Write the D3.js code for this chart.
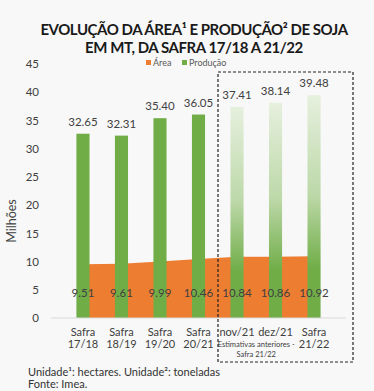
<!DOCTYPE html>
<html>
<head>
<meta charset="utf-8">
<script src="https://cdn.jsdelivr.net/npm/d3@7"></script>
<style>
  body { margin: 0; background: #f8f8f8; }
  svg { display: block; font-family: Lato, "Open Sans", sans-serif; }
</style>
</head>
<body>
<div id="wrapper"></div>
<script>
/* chart data */
const categories = ["Safra 17/18", "Safra 18/19", "Safra 19/20", "Safra 20/21", "nov/21", "dez/21", "Safra 21/22"];
const tickLines = [["Safra", "17/18"], ["Safra", "18/19"], ["Safra", "19/20"], ["Safra", "20/21"], ["nov/21"], ["dez/21"], ["Safra", "21/22"]];
const area = [9.51, 9.61, 9.99, 10.46, 10.84, 10.86, 10.92];
const producao = [32.65, 32.31, 35.40, 36.05, 37.41, 38.14, 39.48];
const estimativa = [false, false, false, false, true, true, true];
const yTicks = [0, 5, 10, 15, 20, 25, 30, 35, 40, 45];

var W = 374, H = 391;
var margin = {top: 64, right: 28, bottom: 73, left: 51},
    width = W - margin.left - margin.right,
    height = H - margin.top - margin.bottom;

var svgRoot = d3.select("#wrapper")
  .append("svg")
    .attr("width", W)
    .attr("height", H);

svgRoot.append("rect").attr("width", W).attr("height", H).attr("fill", "#f8f8f8");

/* gradient for the estimate bars */
var grad = svgRoot.append("defs").append("linearGradient")
    .attr("id", "est").attr("x1", 0).attr("y1", 0).attr("x2", 0).attr("y2", 1);
grad.append("stop").attr("offset", "0").attr("stop-color", "#e6f0de");
grad.append("stop").attr("offset", "0.45").attr("stop-color", "#bcd8a8");
grad.append("stop").attr("offset", "0.78").attr("stop-color", "#70ad47");
grad.append("stop").attr("offset", "1").attr("stop-color", "#70ad47");

/* title, two separate lines */
var titleLines = ["EVOLUÇÃO DA ÁREA¹ E PRODUÇÃO² DE SOJA", "EM MT, DA SAFRA 17/18 A 21/22"];
svgRoot.selectAll("text.title")
  .data(titleLines)
  .enter()
  .append("text")
    .attr("class", "title")
    .attr("x", 194)
    .attr("y", function(d, i) { return 35 + i * 18; })
    .attr("text-anchor", "middle")
    .attr("font-weight", "bold").attr("font-size", 15)
    .attr("letter-spacing", -0.45)
    .attr("fill", "#1a1a1a")
    .text(function(d) { return d; });

var svg = svgRoot.append("g")
    .attr("transform", "translate(" + margin.left + "," + margin.top + ")");

var x = d3.scaleBand()
  .range([0, width])
  .domain(categories)
  .padding(0.66);

var xc = function(d) { return x(d) + x.bandwidth() / 2; };

var y = d3.scaleLinear()
  .domain([0, 45])
  .range([height, 0]);

/* y axis, no line */
var yAxis = svg.append("g")
  .call(d3.axisLeft(y).tickValues(yTicks).tickSize(0).tickPadding(12));
yAxis.select(".domain").remove();
yAxis.selectAll("text")
  .attr("font-family", "Lato, sans-serif")
  .attr("font-size", 11.5)
  .attr("fill", "#404040");

/* area series (orange) */
var areaGen = d3.area()
  .x(function(d, i) { return xc(categories[i]); })
  .y0(height)
  .y1(function(d) { return y(d); });

svg.append("path")
  .datum(area)
  .attr("d", areaGen)
  .attr("fill", "#ed7d31");

/* production bars */
svg.selectAll("rect.bar")
  .data(producao)
  .enter()
  .append("rect")
    .attr("class", "bar")
    .attr("x", function(d, i) { return x(categories[i]); })
    .attr("y", function(d) { return y(d); })
    .attr("width", x.bandwidth())
    .attr("height", function(d) { return height - y(d); })
    .attr("fill", function(d, i) { return estimativa[i] ? "url(#est)" : "#70ad47"; });

/* x axis line */
svg.append("line")
  .attr("x1", 0).attr("x2", width)
  .attr("y1", height).attr("y2", height)
  .attr("stroke", "#d9d9d9");

/* labels */
svg.selectAll("text.prod")
  .data(producao)
  .enter()
  .append("text")
    .attr("x", function(d, i) { return xc(categories[i]); })
    .attr("y", function(d) { return y(d) - 8; })
    .attr("text-anchor", "middle")
    .attr("font-size", 11.5)
    .attr("fill", "#404040")
    .text(function(d) { return d.toFixed(2); });

svg.selectAll("text.area")
  .data(area)
  .enter()
  .append("text")
    .attr("x", function(d, i) { return xc(categories[i]); })
    .attr("y", y(3.7))
    .attr("text-anchor", "middle")
    .attr("font-size", 11.5)
    .attr("fill", "#404040")
    .text(function(d) { return d.toFixed(2); });

/* category labels */
tickLines.forEach(function(lines, i) {
  var t = svg.append("text")
    .attr("x", xc(categories[i]))
    .attr("text-anchor", "middle")
    .attr("font-size", 11)
    .attr("fill", "#404040");
  lines.forEach(function(s, j) {
    t.append("tspan").attr("x", xc(categories[i])).attr("y", height + 18 + j * 12).text(s);
  });
});

/* note under estimates */
var note = svg.append("text")
  .attr("text-anchor", "middle")
  .attr("font-size", 7.5)
  .attr("fill", "#404040");
var nx = (xc(categories[4]) + xc(categories[5])) / 2;
note.append("tspan").attr("x", nx).attr("y", height + 29).text("Estimativas anteriores -");
note.append("tspan").attr("x", nx).attr("y", height + 39).text("Safra 21/22");

/* dashed box */
svg.append("rect")
  .attr("x", 167).attr("y", 8)
  .attr("width", 135).attr("height", 290)
  .attr("fill", "none")
  .attr("stroke", "#222")
  .attr("stroke-width", 1.2)
  .attr("stroke-dasharray", "3,2");

/* y title */
svgRoot.append("text")
  .attr("transform", "translate(16,221) rotate(-90)")
  .attr("text-anchor", "middle")
  .attr("font-size", 12.5)
  .attr("fill", "#404040")
  .text("Milhões");

/* legend */
var legend = svgRoot.append("g").attr("font-size", 9).attr("fill", "#595959");
legend.append("rect").attr("x", 146).attr("y", 60).attr("width", 5).attr("height", 5).attr("fill", "#ed7d31");
legend.append("text").attr("x", 153).attr("y", 66).text("Área");
legend.append("rect").attr("x", 182).attr("y", 60).attr("width", 5).attr("height", 5).attr("fill", "#70ad47");
legend.append("text").attr("x", 189).attr("y", 66).text("Produção");

/* footer */
var foot = svgRoot.append("g").attr("font-size", 11).attr("fill", "#333");
foot.append("text").attr("x", 28).attr("y", 376).text("Unidade¹: hectares. Unidade²: toneladas");
foot.append("text").attr("x", 28).attr("y", 388).text("Fonte: Imea.");
</script>
</body>
</html>
